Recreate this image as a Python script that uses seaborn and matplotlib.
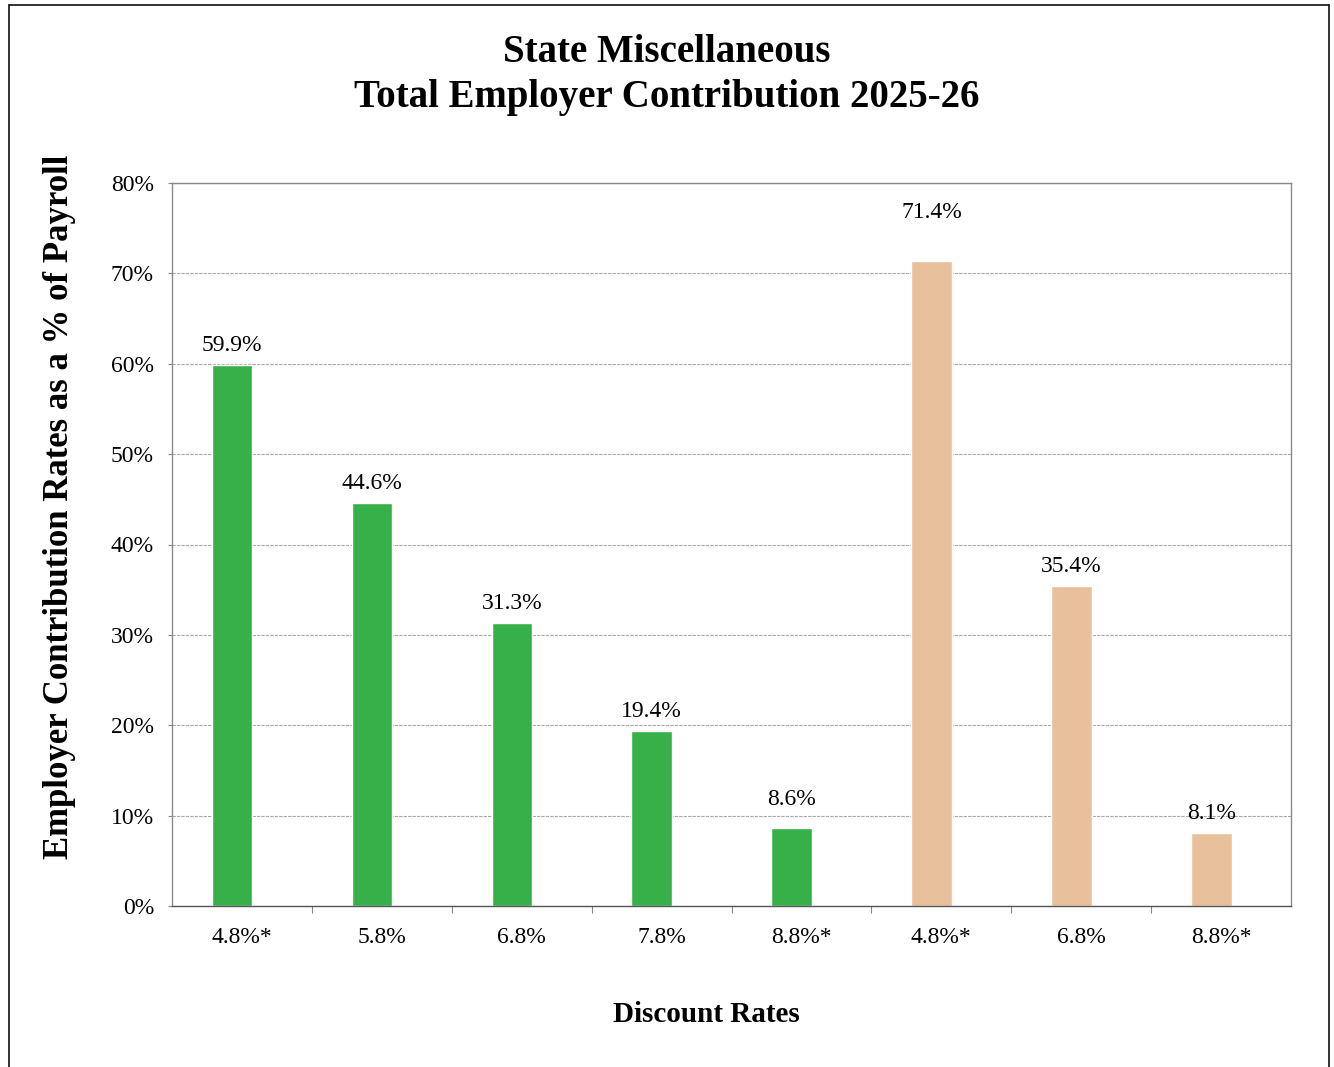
import matplotlib
matplotlib.use("Agg")
import matplotlib.pyplot as plt
from matplotlib.lines import Line2D
from matplotlib.ticker import FixedLocator, FuncFormatter
import pandas as pd
import seaborn as sns

# Discount rate scenarios and the resulting total employer contribution (% of payroll)
discount_rates = ["4.8%*", "5.8%", "6.8%", "7.8%", "8.8%*", "4.8%*", "6.8%", "8.8%*"]
contribution_pct = [59.9, 44.6, 31.3, 19.4, 8.6, 71.4, 35.4, 8.1]
scenario_set = ["Set 1"] * 5 + ["Set 2"] * 3
set_colors = {"Set 1": "#37b04a", "Set 2": "#e9c09c"}
y_ticks = [0, 10, 20, 30, 40, 50, 60, 70, 80]

sns.set_theme(style="white")
plt.rcParams["font.family"] = ["Liberation Serif", "DejaVu Serif"]
plt.rcParams["text.color"] = "#000000"

df = pd.DataFrame({
    "slot": [str(i) for i in range(len(discount_rates))],
    "rate": discount_rates,
    "pct": contribution_pct,
    "set": scenario_set,
})

fig = plt.figure(figsize=(13.34, 10.67), dpi=100)
ax = fig.add_axes([172 / 1334, 1 - 906 / 1067, (1291 - 172) / 1334, (906 - 183) / 1067])

sns.barplot(data=df, x="slot", y="pct", hue="set", palette=set_colors,
            dodge=False, width=0.29, saturation=1, legend=False, ax=ax)

# Bars sit slightly left of each category centre
bar_shift = -0.07
bars = sorted([p for c in ax.containers for p in c if p.get_height() > 0],
              key=lambda p: p.get_x())
for bar in bars:
    bar.set_x(bar.get_x() + bar_shift)

ax.set_ylim(0, 80)
ax.set_xlim(-0.5, len(discount_rates) - 0.5)
ax.yaxis.set_major_locator(FixedLocator(y_ticks))
ax.yaxis.set_major_formatter(FuncFormatter(lambda v, _: f"{v:.0f}%"))
ax.grid(axis="y", color="#a8a8a8", linewidth=0.8, linestyle=(0, (3, 1)))
ax.set_axisbelow(True)

ax.set_xticks(range(len(discount_rates)))
ax.set_xticklabels(discount_rates)
ax.set_xticks([i + 0.5 for i in range(len(discount_rates) - 1)], minor=True)
ax.tick_params(axis="x", which="major", length=0, pad=15, labelsize=17, colors="#000000")
ax.tick_params(axis="x", which="minor", length=5, width=0.8, color="#888888", direction="out", bottom=True)
ax.tick_params(axis="y", length=3, width=0.8, color="#888888", left=True, pad=10,
               labelsize=17, labelcolor="#000000")

for side in ["left", "right", "top", "bottom"]:
    ax.spines[side].set_visible(True)
    ax.spines[side].set_color("#8a8a8a")
    ax.spines[side].set_linewidth(1.0)
ax.spines["bottom"].set_color("#555555")

ax.set_xlabel("")
ax.set_ylabel("")

# Value labels above each bar
label_pad = [6.5, 6.5, 6.5, 6.5, 13, 27, 6.5, 6.5]
for bar, val, pad in zip(bars, contribution_pct, label_pad):
    ax.annotate(f"{val:.1f}%", (bar.get_x() + bar.get_width() / 2, val),
                xytext=(0, pad), textcoords="offset points",
                ha="center", va="bottom", fontsize=17, color="#000000")

fig.text(0.5, 1 - 52 / 1067, "State Miscellaneous", ha="center", va="center",
         fontsize=28, fontweight="bold")
fig.text(0.5, 1 - 97 / 1067, "Total Employer Contribution 2025-26", ha="center", va="center",
         fontsize=28, fontweight="bold")
fig.text(60 / 1334, 1 - 507 / 1067, "Employer Contribution Rates as a % of Payroll",
         rotation=90, ha="center", va="center", fontsize=25, fontweight="bold")
fig.text(706 / 1334, 1 - 1015 / 1067, "Discount Rates", ha="center", va="center",
         fontsize=21, fontweight="bold")

# Outer frame (open at the bottom edge)
frame_kw = dict(color="#111111", linewidth=1.2, transform=fig.transFigure)
fig.add_artist(Line2D([9 / 1334, 9 / 1334], [0, 1 - 5 / 1067], **frame_kw))
fig.add_artist(Line2D([9 / 1334, 1329 / 1334], [1 - 5 / 1067, 1 - 5 / 1067], **frame_kw))
fig.add_artist(Line2D([1329 / 1334, 1329 / 1334], [1 - 5 / 1067, 0], **frame_kw))

fig.savefig("out.png", dpi=100, facecolor="white")
